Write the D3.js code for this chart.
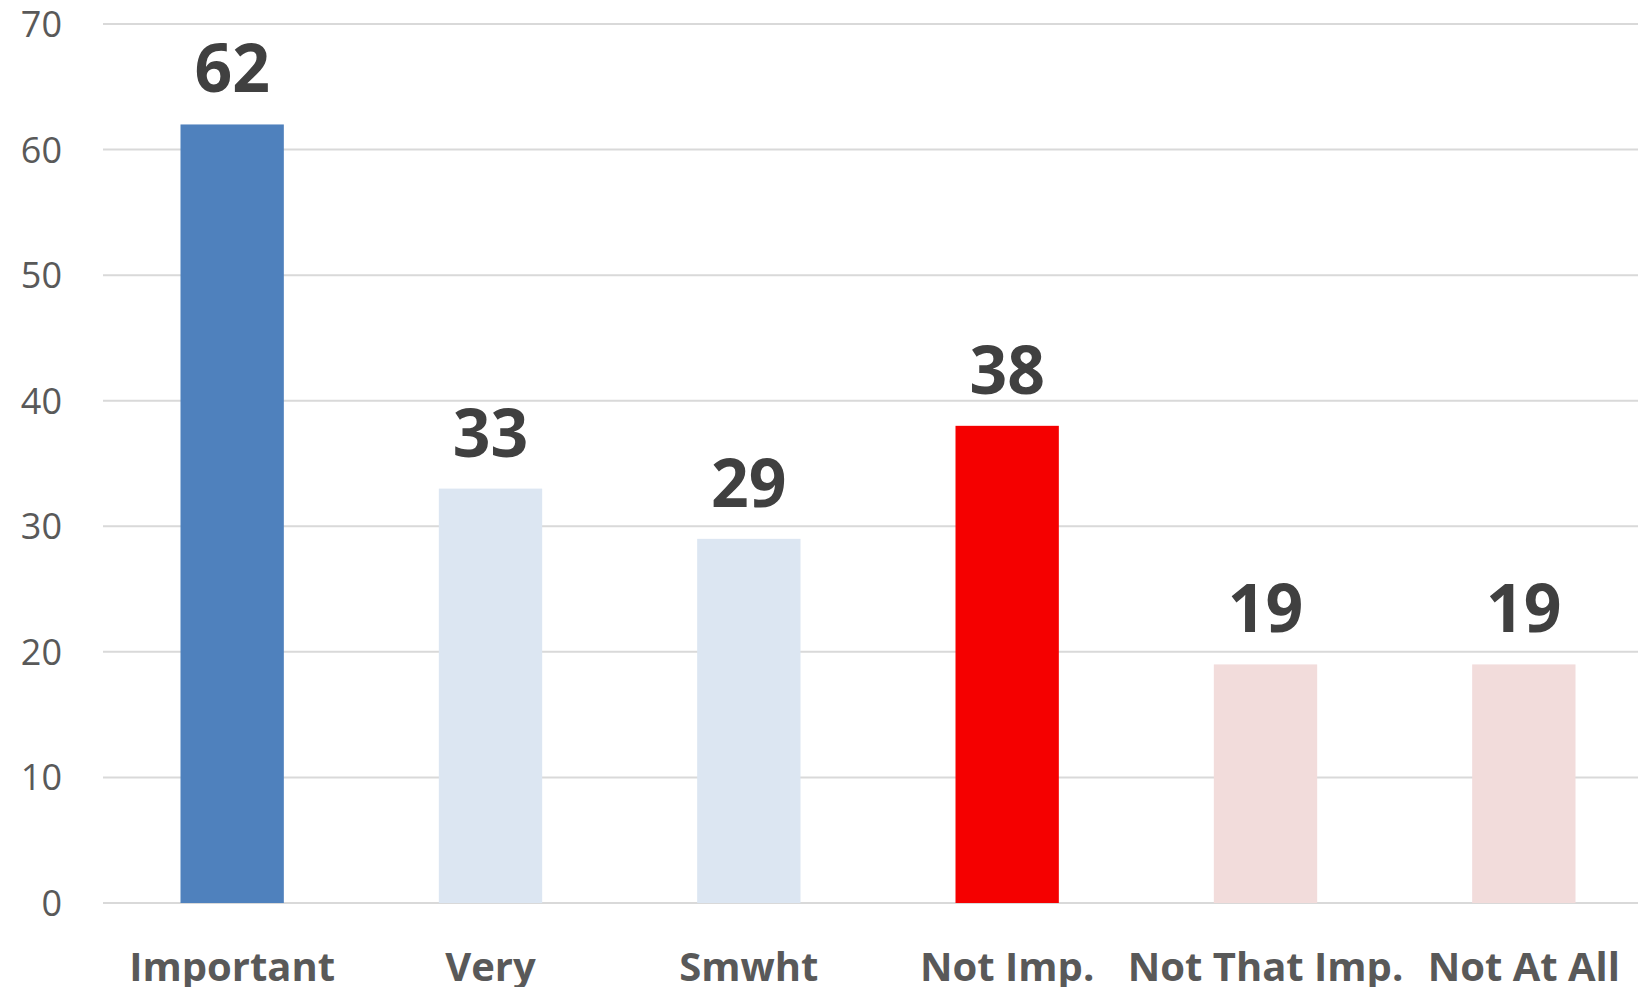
<!DOCTYPE html>
<html>
<head>
<meta charset="utf-8">
<script src="https://cdn.jsdelivr.net/npm/d3@7"></script>
<style>
  body { margin: 0; background: #fff; overflow: hidden; }
  svg { display: block; }
</style>
</head>
<body>
<svg id="chart"></svg>
<script>
// chart data
var categories = ["Important", "Very", "Smwht", "Not Imp.", "Not That Imp.", "Not At All"];
var values = [62, 33, 29, 38, 19, 19];
var barColors = ["#4F81BD", "#DCE6F2", "#DCE6F2", "#F50000", "#F2DCDB", "#F2DCDB"];
var yTicks = [0, 10, 20, 30, 40, 50, 60, 70];

var width = 1638, height = 987;
var plotLeft = 103, plotRight = 1653, plotTop = 24, plotBottom = 903;

var svg = d3.select("#chart")
    .attr("width", width)
    .attr("height", height);

var x = d3.scaleBand()
    .domain(categories)
    .range([plotLeft, plotRight])
    .paddingInner(0.6)
    .paddingOuter(0.3);

var y = d3.scaleLinear()
    .domain([0, 70])
    .range([plotBottom, plotTop]);

// gridlines
svg.append("g")
    .selectAll("line")
    .data(yTicks)
    .enter().append("line")
    .attr("x1", plotLeft)
    .attr("x2", width)
    .attr("y1", function(d) { return y(d); })
    .attr("y2", function(d) { return y(d); })
    .attr("stroke", "#D9D9D9")
    .attr("stroke-width", 2);

// y tick labels
svg.append("g")
    .selectAll("text")
    .data(yTicks)
    .enter().append("text")
    .attr("x", 62)
    .attr("y", function(d) { return y(d); })
    .attr("dy", "0.36em")
    .attr("text-anchor", "end")
    .attr("font-family", "'Open Sans', sans-serif")
    .attr("font-size", "36px")
    .attr("fill", "#595959")
    .text(function(d) { return d; });

// bars
svg.append("g")
    .selectAll("rect")
    .data(values)
    .enter().append("rect")
    .attr("x", function(d, i) { return x(categories[i]); })
    .attr("y", function(d) { return y(d); })
    .attr("width", x.bandwidth())
    .attr("height", function(d) { return plotBottom - y(d); })
    .attr("fill", function(d, i) { return barColors[i]; });

// value labels
svg.append("g")
    .selectAll("text")
    .data(values)
    .enter().append("text")
    .attr("x", function(d, i) { return x(categories[i]) + x.bandwidth() / 2; })
    .attr("y", function(d) { return y(d) - 32; })
    .attr("text-anchor", "middle")
    .attr("font-family", "'Open Sans', sans-serif")
    .attr("font-weight", "bold")
    .attr("font-size", "66px")
    .attr("fill", "#404040")
    .text(function(d) { return d; });

// category labels
svg.append("g")
    .selectAll("text")
    .data(categories)
    .enter().append("text")
    .attr("x", function(d) { return x(d) + x.bandwidth() / 2; })
    .attr("y", 981)
    .attr("text-anchor", "middle")
    .attr("font-family", "'Open Sans', sans-serif")
    .attr("font-weight", "bold")
    .attr("font-size", "40px")
    .attr("fill", "#595959")
    .text(function(d) { return d; });
</script>
</body>
</html>
